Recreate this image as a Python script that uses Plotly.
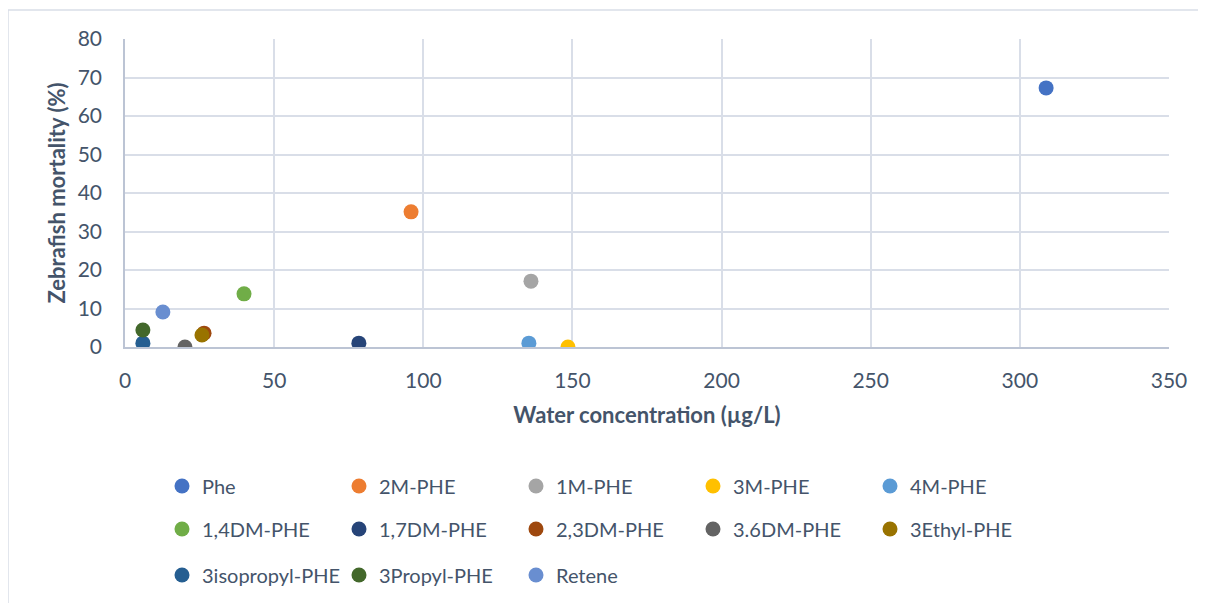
import plotly.graph_objects as go

names = ["Phe", "2M-PHE", "1M-PHE", "3M-PHE", "4M-PHE",
         "1,4DM-PHE", "1,7DM-PHE", "2,3DM-PHE", "3.6DM-PHE", "3Ethyl-PHE",
         "3isopropyl-PHE", "3Propyl-PHE", "Retene"]
water_conc = [308.8, 95.9, 136.1, 148.5, 135.4,
              39.9, 78.4, 26.5, 20.1, 25.8,
              6.0, 6.0, 12.7]
mortality = [67.3, 35.1, 17.1, 0.0, 1.0,
             13.8, 1.0, 3.6, 0.0, 3.1,
             1.0, 4.4, 9.1]
colors = ["#4472C4", "#ED7D31", "#A5A5A5", "#FFC000", "#5B9BD5",
          "#70AD47", "#264478", "#9E480E", "#636363", "#997300",
          "#255E91", "#43682B", "#698ED0"]

FONT = "Lato"
TXT = "#44546A"
GRID = "#D9DEE8"

fig = go.Figure()
for i, (n, x, y, c) in enumerate(zip(names, water_conc, mortality, colors)):
    leg = "legend" if i < 5 else ("legend2" if i < 10 else "legend3")
    fig.add_trace(go.Scatter(x=[x], y=[y], mode="markers", name=n,
                             marker=dict(color=c, size=15, line=dict(width=0)),
                             legend=leg))

W, H = 1206, 603
ml, mr, mt, mb = 117, 45, 31, 264
PW, PH = W - ml - mr, H - mt - mb

def px_x(p):
    return (p - ml) / PW

def px_y(p):
    return 1 - (p - mt) / PH

def legend_cfg(ypix):
    return dict(orientation="h", x=px_x(154), xanchor="left",
                y=px_y(ypix), yanchor="middle",
                entrywidth=132, entrywidthmode="pixels",
                font=dict(family=FONT, size=20, color=TXT),
                bgcolor="rgba(0,0,0,0)", itemwidth=30,
                traceorder="normal")

fig.update_layout(
    width=W, height=H,
    margin=dict(l=ml, r=mr, t=mt, b=mb),
    paper_bgcolor="white", plot_bgcolor="white",
    font=dict(family=FONT, color=TXT),
    showlegend=True,
    legend=legend_cfg(478),
    legend2=legend_cfg(521),
    legend3=legend_cfg(567),
    xaxis=dict(range=[0, 350], dtick=50, showgrid=True, gridcolor=GRID, gridwidth=1.5,
               showline=True, linecolor="#BCC4D4", linewidth=1.5, zeroline=False,
               tickfont=dict(family=FONT, size=21, color=TXT), ticks="", ticklabelstandoff=14,
               title=dict(text="<b>Water concentration (µg/L)</b>",
                          font=dict(family=FONT, size=22, color=TXT), standoff=17)),
    yaxis=dict(range=[0, 80], dtick=10, showgrid=True, gridcolor=GRID, gridwidth=1.5,
               showline=True, linecolor="#BCC4D4", linewidth=1.5, zeroline=False,
               tickfont=dict(family=FONT, size=21, color=TXT), ticks="", ticklabelstandoff=17,
               title=dict(text="<b>Zebrafish mortality (%)</b>",
                          font=dict(family=FONT, size=22, color=TXT), standoff=6)),
    shapes=[dict(type="rect", xref="paper", yref="paper",
                 x0=px_x(0), x1=px_x(1260),
                 y0=px_y(660), y1=px_y(2),
                 line=dict(color=GRID, width=1.5), layer="below")],
)

fig.write_html("out.html")
